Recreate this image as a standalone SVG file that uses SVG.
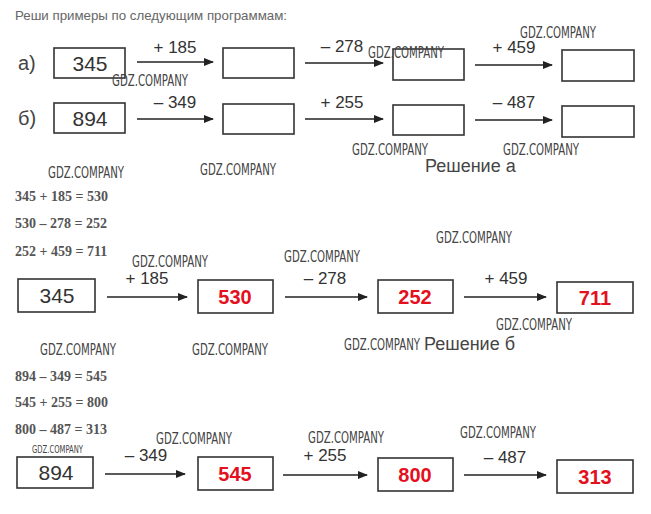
<svg xmlns="http://www.w3.org/2000/svg" width="651" height="514" viewBox="0 0 651 514">
<defs>
<marker id="ah" markerWidth="10" markerHeight="8" refX="9" refY="4" orient="auto" markerUnits="userSpaceOnUse">
<path d="M0,0 L10,4 L0,8 Z" fill="#222"/>
</marker>
<style>
.box{fill:#fff;stroke:#333;stroke-width:1.6}
.ar{stroke:#222;stroke-width:1.6;fill:none;marker-end:url(#ah)}
.num{font-family:"Liberation Sans",Arial,sans-serif;font-size:21px;fill:#333;text-anchor:middle}
.res{font-family:"Liberation Sans",Arial,sans-serif;font-size:20px;font-weight:bold;fill:#e3101e;text-anchor:middle}
.lbl{font-family:"Liberation Sans",Arial,sans-serif;font-size:17px;fill:#333;text-anchor:middle}
.lt{font-family:"Liberation Sans",Arial,sans-serif;font-size:20px;fill:#444}
.ttl{font-family:"Liberation Sans",Arial,sans-serif;font-size:13px;fill:#666}
.hd{font-family:"Liberation Sans",Arial,sans-serif;font-size:18px;fill:#444}
.eq{font-family:"Liberation Serif","Times New Roman",serif;font-size:14px;font-weight:bold;fill:#555}
.wm{font-family:"Liberation Sans Narrow","DejaVu Sans Condensed",sans-serif;font-size:15px;fill:#444}
.wms{font-family:"Liberation Sans Narrow","DejaVu Sans Condensed",sans-serif;font-size:10px;fill:#444}
</style>
</defs>
<rect width="651" height="514" fill="#fff"/>
<text class="ttl" x="15" y="20" textLength="272" lengthAdjust="spacingAndGlyphs">Реши примеры по следующим программам:</text>

<g id="connectors">
<line class="ar" x1="137" y1="62" x2="213" y2="62"/>
<line class="ar" x1="305" y1="63" x2="383" y2="63"/>
<line class="ar" x1="475" y1="65" x2="552" y2="65"/>
<line class="ar" x1="137" y1="119" x2="213" y2="119"/>
<line class="ar" x1="305" y1="119" x2="383" y2="119"/>
<line class="ar" x1="475" y1="120" x2="552" y2="120"/>
<line class="ar" x1="107" y1="297" x2="187" y2="297"/>
<line class="ar" x1="285" y1="297" x2="367" y2="297"/>
<line class="ar" x1="464" y1="297" x2="546" y2="297"/>
<line class="ar" x1="105" y1="474" x2="185" y2="474"/>
<line class="ar" x1="283" y1="475" x2="367" y2="475"/>
<line class="ar" x1="464" y1="475" x2="546" y2="475"/>
</g>

<g id="labels">
<text class="lbl" x="175" y="53">+ 185</text>
<text class="lbl" x="342" y="52">– 278</text>
<text class="lbl" x="514" y="53">+ 459</text>
<text class="lbl" x="175" y="108">– 349</text>
<text class="lbl" x="342" y="108">+ 255</text>
<text class="lbl" x="514" y="108">– 487</text>
<text class="lbl" x="147" y="284">+ 185</text>
<text class="lbl" x="325" y="284">– 278</text>
<text class="lbl" x="506" y="284">+ 459</text>
<text class="lbl" x="146" y="461">– 349</text>
<text class="lbl" x="325" y="461">+ 255</text>
<text class="lbl" x="505" y="463">– 487</text>
</g>

<text class="lt" x="18" y="70">а)</text>
<text class="lt" x="18" y="125">б)</text>

<g id="a1"><rect class="box" x="54" y="48" width="71" height="30"/><text class="num" x="90" y="71">345</text></g>
<g id="a2"><rect class="box" x="223" y="48" width="71" height="30"/></g>
<g id="a3"><rect class="box" x="393" y="49" width="71" height="31"/></g>
<g id="a4"><rect class="box" x="562" y="50" width="72" height="31"/></g>

<g id="b1"><rect class="box" x="54" y="103" width="71" height="30"/><text class="num" x="90" y="126">894</text></g>
<g id="b2"><rect class="box" x="223" y="104" width="71" height="30"/></g>
<g id="b3"><rect class="box" x="393" y="105" width="71" height="30"/></g>
<g id="b4"><rect class="box" x="562" y="106" width="72" height="31"/></g>

<text class="hd" x="425" y="172">Решение а</text>
<text class="eq" x="15" y="201">345 + 185 = 530</text>
<text class="eq" x="15" y="228">530 – 278 = 252</text>
<text class="eq" x="15" y="256">252 + 459 = 711</text>

<g id="sa1"><rect class="box" x="18" y="279" width="77" height="33"/><text class="num" x="57" y="303">345</text></g>
<g id="sa2"><rect class="box" x="198" y="280" width="75" height="33"/><text class="res" x="235" y="304">530</text></g>
<g id="sa3"><rect class="box" x="378" y="280" width="75" height="33"/><text class="res" x="415" y="304">252</text></g>
<g id="sa4"><rect class="box" x="557" y="282" width="76" height="31"/><text class="res" x="595" y="305">711</text></g>

<text class="hd" x="424" y="350">Решение б</text>
<text class="eq" x="15" y="381">894 – 349 = 545</text>
<text class="eq" x="15" y="407">545 + 255 = 800</text>
<text class="eq" x="15" y="434">800 – 487 = 313</text>

<g id="sb1"><rect class="box" x="17" y="457" width="76" height="31"/><text class="num" x="56" y="480">894</text></g>
<g id="sb2"><rect class="box" x="198" y="457" width="75" height="33"/><text class="res" x="235" y="481">545</text></g>
<g id="sb3"><rect class="box" x="378" y="458" width="75" height="33"/><text class="res" x="415" y="482">800</text></g>
<g id="sb4"><rect class="box" x="557" y="460" width="76" height="33"/><text class="res" x="595" y="484">313</text></g>

<g id="watermarks">
<text class="wm" x="112" y="86" textLength="76" lengthAdjust="spacingAndGlyphs">GDZ.COMPANY</text>
<text class="wm" x="368" y="58" textLength="76" lengthAdjust="spacingAndGlyphs">GDZ.COMPANY</text>
<text class="wm" x="520" y="38" textLength="76" lengthAdjust="spacingAndGlyphs">GDZ.COMPANY</text>
<text class="wm" x="48" y="178" textLength="76" lengthAdjust="spacingAndGlyphs">GDZ.COMPANY</text>
<text class="wm" x="200" y="175" textLength="76" lengthAdjust="spacingAndGlyphs">GDZ.COMPANY</text>
<text class="wm" x="352" y="155" textLength="76" lengthAdjust="spacingAndGlyphs">GDZ.COMPANY</text>
<text class="wm" x="503" y="155" textLength="76" lengthAdjust="spacingAndGlyphs">GDZ.COMPANY</text>
<text class="wm" x="132" y="267" textLength="76" lengthAdjust="spacingAndGlyphs">GDZ.COMPANY</text>
<text class="wm" x="284" y="262" textLength="76" lengthAdjust="spacingAndGlyphs">GDZ.COMPANY</text>
<text class="wm" x="436" y="243" textLength="76" lengthAdjust="spacingAndGlyphs">GDZ.COMPANY</text>
<text class="wm" x="496" y="330" textLength="76" lengthAdjust="spacingAndGlyphs">GDZ.COMPANY</text>
<text class="wm" x="40" y="355" textLength="76" lengthAdjust="spacingAndGlyphs">GDZ.COMPANY</text>
<text class="wm" x="192" y="355" textLength="76" lengthAdjust="spacingAndGlyphs">GDZ.COMPANY</text>
<text class="wm" x="344" y="350" textLength="76" lengthAdjust="spacingAndGlyphs">GDZ.COMPANY</text>
<text class="wms" x="32" y="453" textLength="51" lengthAdjust="spacingAndGlyphs">GDZ.COMPANY</text>
<text class="wm" x="156" y="444" textLength="76" lengthAdjust="spacingAndGlyphs">GDZ.COMPANY</text>
<text class="wm" x="308" y="443" textLength="76" lengthAdjust="spacingAndGlyphs">GDZ.COMPANY</text>
<text class="wm" x="460" y="438" textLength="76" lengthAdjust="spacingAndGlyphs">GDZ.COMPANY</text>
</g>
</svg>
